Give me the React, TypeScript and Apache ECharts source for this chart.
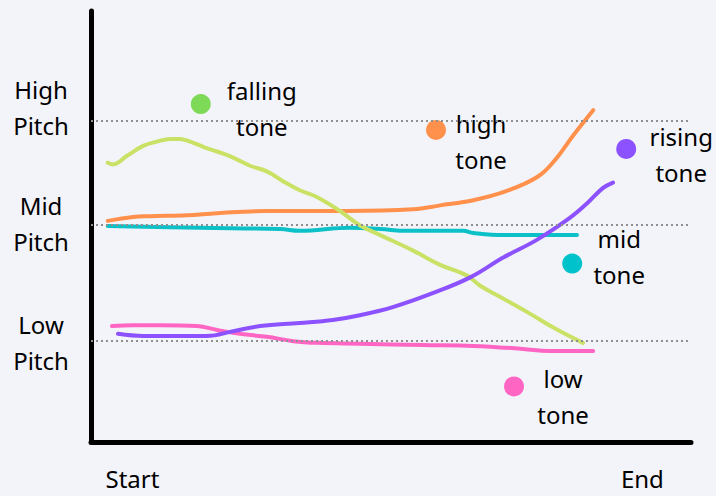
import React, { useEffect, useRef } from "react";
import * as echarts from "echarts";

// x axis: 0 = start of plot, 100 = end ; y axis: 0 = bottom, 100 = top
const timeLabels = ["Start", "End"];
const timeLabelValues = [6.9, 91.9];

const pitchLabels = ["High\nPitch", "Mid\nPitch", "Low\nPitch"];
const pitchLabelValues = [77.7, 50.6, 23.1];
const pitchLevels = [74.5, 50.3, 23.4];

const toneNames = ["falling\ntone", "high\ntone", "rising\ntone", "mid\ntone", "low\ntone"];
const dotColors = ["#7ed957", "#ff914d", "#8c52ff", "#00c2cb", "#ff66c4"];
const lineColors = ["#c9e265", "#ff914d", "#8c52ff", "#0cc0c8", "#ff66c4"];
const dotValues: number[][] = [
  [18.3, 78.4],
  [57.5, 72.4],
  [89.2, 68.0],
  [80.2, 41.4],
  [70.5, 12.9],
];

const fallingTone: number[][] = [
  [2.8, 64.8], [3.7, 64.4], [6.0, 66.4], [8.7, 68.7], [11.0, 69.7], [13.2, 70.3],
  [14.8, 70.3], [16.5, 69.7], [18.7, 68.5], [21.0, 67.4], [23.7, 66.0], [26.5, 64.1],
  [29.3, 62.8], [32.0, 60.5], [34.8, 58.4], [37.7, 56.8], [41.5, 53.6], [44.8, 50.3],
  [48.2, 48.0], [53.7, 44.4], [58.2, 41.1], [62.7, 38.6], [64.8, 36.3], [68.0, 33.8],
  [73.0, 29.9], [77.5, 26.2], [82.0, 23.0],
];
const highTone: number[][] = [
  [2.8, 51.3], [7.0, 52.2], [9.8, 52.4], [16.0, 52.6], [21.0, 53.1], [29.3, 53.6],
  [34.8, 53.6], [42.7, 53.6], [53.7, 54.0], [58.2, 54.9], [63.7, 56.1], [69.2, 58.2],
  [74.5, 61.6], [77.5, 65.7], [80.3, 71.0], [82.5, 74.9], [83.7, 77.0],
];
const midTone: number[][] = [
  [2.8, 50.1], [18.2, 49.7], [31.5, 49.4], [34.8, 49.0], [43.2, 49.7], [48.2, 49.4],
  [52.7, 49.0], [62.0, 49.0], [63.7, 48.5], [68.7, 48.0], [81.0, 48.0],
];
const lowTone: number[][] = [
  [3.5, 26.9], [7.0, 27.1], [11.5, 27.1], [17.7, 26.9], [21.0, 26.0], [24.8, 25.1],
  [29.3, 24.4], [33.7, 23.4], [37.7, 23.0], [44.8, 22.8], [55.3, 22.5], [63.7, 22.3],
  [72.0, 21.6], [76.3, 21.1], [83.7, 21.1],
];
const risingTone: number[][] = [
  [4.5, 25.1], [8.7, 24.6], [19.3, 24.6], [23.7, 25.7], [28.2, 26.9], [34.8, 27.6],
  [40.3, 28.3], [44.8, 29.4], [50.3, 31.3], [56.5, 34.3], [63.2, 38.2], [68.7, 42.8],
  [74.3, 46.9], [79.8, 52.0], [82.7, 55.4], [85.3, 58.9], [87.0, 60.2],
];

const FONT = "Noto Sans";
const TEXT = "#000000";

export default function App() {
  const ref = useRef<HTMLDivElement>(null);

  useEffect(() => {
    if (!ref.current) return;
    const chart = echarts.init(ref.current, null, { renderer: "svg" });

    const labelOffsets = [[61, 4.5], [45, 11.5], [55, 6], [47, -7.5], [49, 10.5]];
    const dotSize = 20;

    const lineSeries = (name: string, data: number[][], color: string) => ({
      name,
      type: "line",
      data,
      smooth: 0.4,
      showSymbol: false,
      symbol: "none",
      z: 3,
      lineStyle: { color, width: 4, cap: "round", join: "round" },
      silent: true,
    });

    chart.setOption({
      animation: false,
      backgroundColor: "#f3f4fa",
      grid: { left: 91, right: 25, top: 11, bottom: 50, containLabel: false },
      xAxis: {
        type: "value",
        min: 0,
        max: 100,
        splitLine: { show: false },
        axisTick: { show: false },
        axisLine: { show: true, onZero: false, lineStyle: { color: "#000", width: 5 } },
        axisLabel: {
          show: true,
          customValues: timeLabelValues,
          formatter: (v: number) => {
            const i = timeLabelValues.findIndex((t) => Math.abs(t - v) < 0.01);
            return i >= 0 ? timeLabels[i] : "";
          },
          fontFamily: FONT,
          fontSize: 24,
          lineHeight: 36,
          color: TEXT,
          margin: 18,
        },
      },
      yAxis: {
        type: "value",
        min: 0,
        max: 100,
        splitLine: { show: false },
        axisTick: { show: false },
        axisLine: { show: true, onZero: false, lineStyle: { color: "#000", width: 5 } },
        axisLabel: {
          show: true,
          customValues: pitchLabelValues,
          formatter: (v: number) => {
            const i = pitchLabelValues.findIndex((t) => Math.abs(t - v) < 0.01);
            return i >= 0 ? pitchLabels[i] : "";
          },
          fontFamily: FONT,
          fontSize: 24,
          lineHeight: 36,
          color: TEXT,
          align: "center",
          margin: 50,
        },
      },
      series: [
        {
          name: "levels",
          type: "line",
          data: [],
          z: 1,
          silent: true,
          markLine: {
            silent: true,
            symbol: ["none", "none"],
            label: { show: false },
            lineStyle: { color: "#8f8f8f", width: 2, type: [2, 3] },
            data: pitchLevels.map((y) => ({ yAxis: y })),
          },
        },
        lineSeries("mid tone", midTone, lineColors[3]),
        lineSeries("high tone", highTone, lineColors[1]),
        lineSeries("low tone", lowTone, lineColors[4]),
        lineSeries("falling tone", fallingTone, lineColors[0]),
        lineSeries("rising tone", risingTone, lineColors[2]),
        {
          name: "tones",
          type: "scatter",
          symbol: "circle",
          symbolSize: dotSize,
          z: 4,
          silent: true,
          data: dotValues.map((v, i) => ({
            value: v,
            itemStyle: { color: dotColors[i], opacity: 1 },
            label: {
              show: true,
              formatter: toneNames[i],
              position: [labelOffsets[i][0] + dotSize / 2, labelOffsets[i][1] + dotSize / 2],
              align: "center",
              verticalAlign: "middle",
              fontFamily: FONT,
              fontSize: 24,
              lineHeight: 36,
              color: TEXT,
              opacity: 1,
              textBorderWidth: 0,
            },
          })),
        },
      ],
    });

    return () => chart.dispose();
  }, []);

  return (
    <div
      ref={ref}
      style={{ position: "fixed", left: 0, top: 0, width: 716, height: 496, background: "#f3f4fa" }}
    />
  );
}
